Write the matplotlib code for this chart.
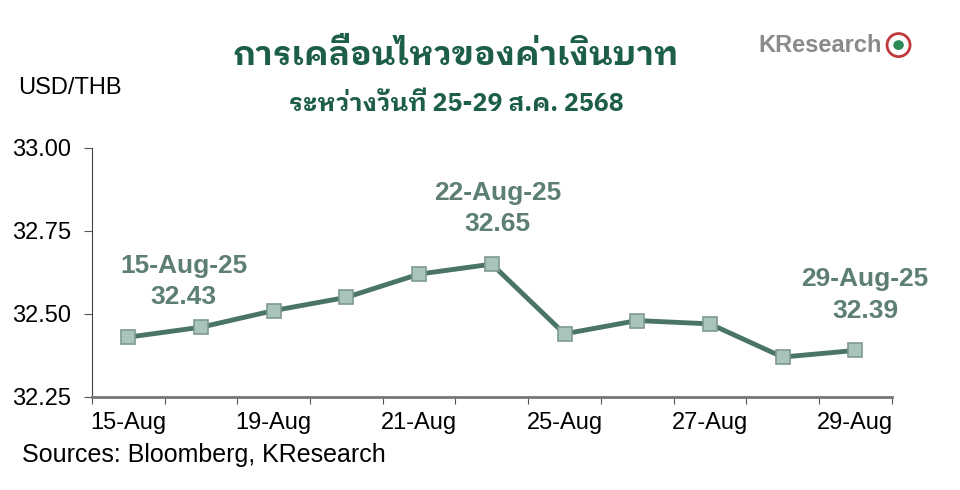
import matplotlib
matplotlib.use("Agg")
import matplotlib.pyplot as plt
from matplotlib.patches import Ellipse

# data
dates = ["15-Aug", "18-Aug", "19-Aug", "20-Aug", "21-Aug", "22-Aug",
         "25-Aug", "26-Aug", "27-Aug", "28-Aug", "29-Aug"]
usdthb = [32.43, 32.46, 32.51, 32.55, 32.62, 32.65, 32.44, 32.48, 32.47, 32.37, 32.39]
y_ticks = [32.25, 32.50, 32.75, 33.00]
callouts = [(0, "15-Aug-25"), (5, "22-Aug-25"), (10, "29-Aug-25")]
callout_shift = [40, 4, 7]   # points to the right of the marker

thai_fam = ['IBM Plex Sans Thai Looped', 'IBM Plex Sans Thai', 'Noto Sans Thai', 'DejaVu Sans']
plt.rcParams['font.family'] = ['Liberation Sans', 'DejaVu Sans']

fig = plt.figure(figsize=(9.6, 4.9), dpi=100)
ax = fig.add_axes([0.0958, 0.19, 0.833, 0.508])

x = list(range(len(dates)))
ax.plot(x, usdthb, color='#4a7565', lw=3.5, marker='s', ms=10,
        mfc='#a9c5b9', mec='#7f9a8f', mew=1.2, zorder=3)

ax.set_xlim(-0.5, len(dates) - 0.5)
ax.set_ylim(32.25, 33.0)
ax.set_yticks(y_ticks)
ax.set_yticklabels([f"{v:.2f}" for v in y_ticks], fontsize=17)
# boundary ticks between days, labels on every other day
ax.set_xticks([i + 0.5 for i in range(-1, len(dates))])
ax.set_xticklabels([])
ax.set_xticks(x[::2], minor=True)
ax.set_xticklabels(dates[::2], minor=True, fontsize=17)
ax.tick_params(axis='x', which='minor', length=0, pad=11)
ax.tick_params(axis='x', which='major', length=5, color='#555555', direction='out')
ax.tick_params(axis='y', length=6, color='#555555', pad=9)
for s in ['top', 'right']:
    ax.spines[s].set_visible(False)
ax.spines['left'].set_color('#444444')
ax.spines['bottom'].set_color('#777777')
ax.spines['bottom'].set_linewidth(2)

for (i, lab), dx in zip(callouts, callout_shift):
    ax.annotate(f"{lab}\n{usdthb[i]:.2f}", (i, usdthb[i]), xytext=(dx, 20),
                textcoords='offset points', ha='center', va='bottom',
                fontsize=19, color='#5d7f72', fontweight='bold', linespacing=1.4)

fig.text(0.475, 0.885, "การเคลื่อนไหวของค่าเงินบาท", ha='center', va='center',
         fontsize=24, fontweight='bold', color='#1d5e48', family=thai_fam)
fig.text(0.475, 0.788, "ระหว่างวันที่ 25-29 ส.ค. 2568", ha='center', va='center',
         fontsize=18, fontweight='bold', color='#1d5e48', family=thai_fam)
fig.text(0.019, 0.82, "USD/THB", ha='left', va='center', fontsize=17)
fig.text(0.023, 0.071, "Sources: Bloomberg, KResearch", ha='left', va='center', fontsize=18)

# logo
fig.text(0.79, 0.908, "KResearch", ha='left', va='center', fontsize=17,
         fontweight='bold', color='#8a8a8a')
fig.patches.append(Ellipse((0.936, 0.908), 0.024, 0.047, transform=fig.transFigure,
                           fc='#ffffff', ec='#c0393b', lw=2))
fig.patches.append(Ellipse((0.936, 0.908), 0.011, 0.02, transform=fig.transFigure,
                           fc='#2e8b57', ec='none'))

fig.savefig("out.png", dpi=100)
